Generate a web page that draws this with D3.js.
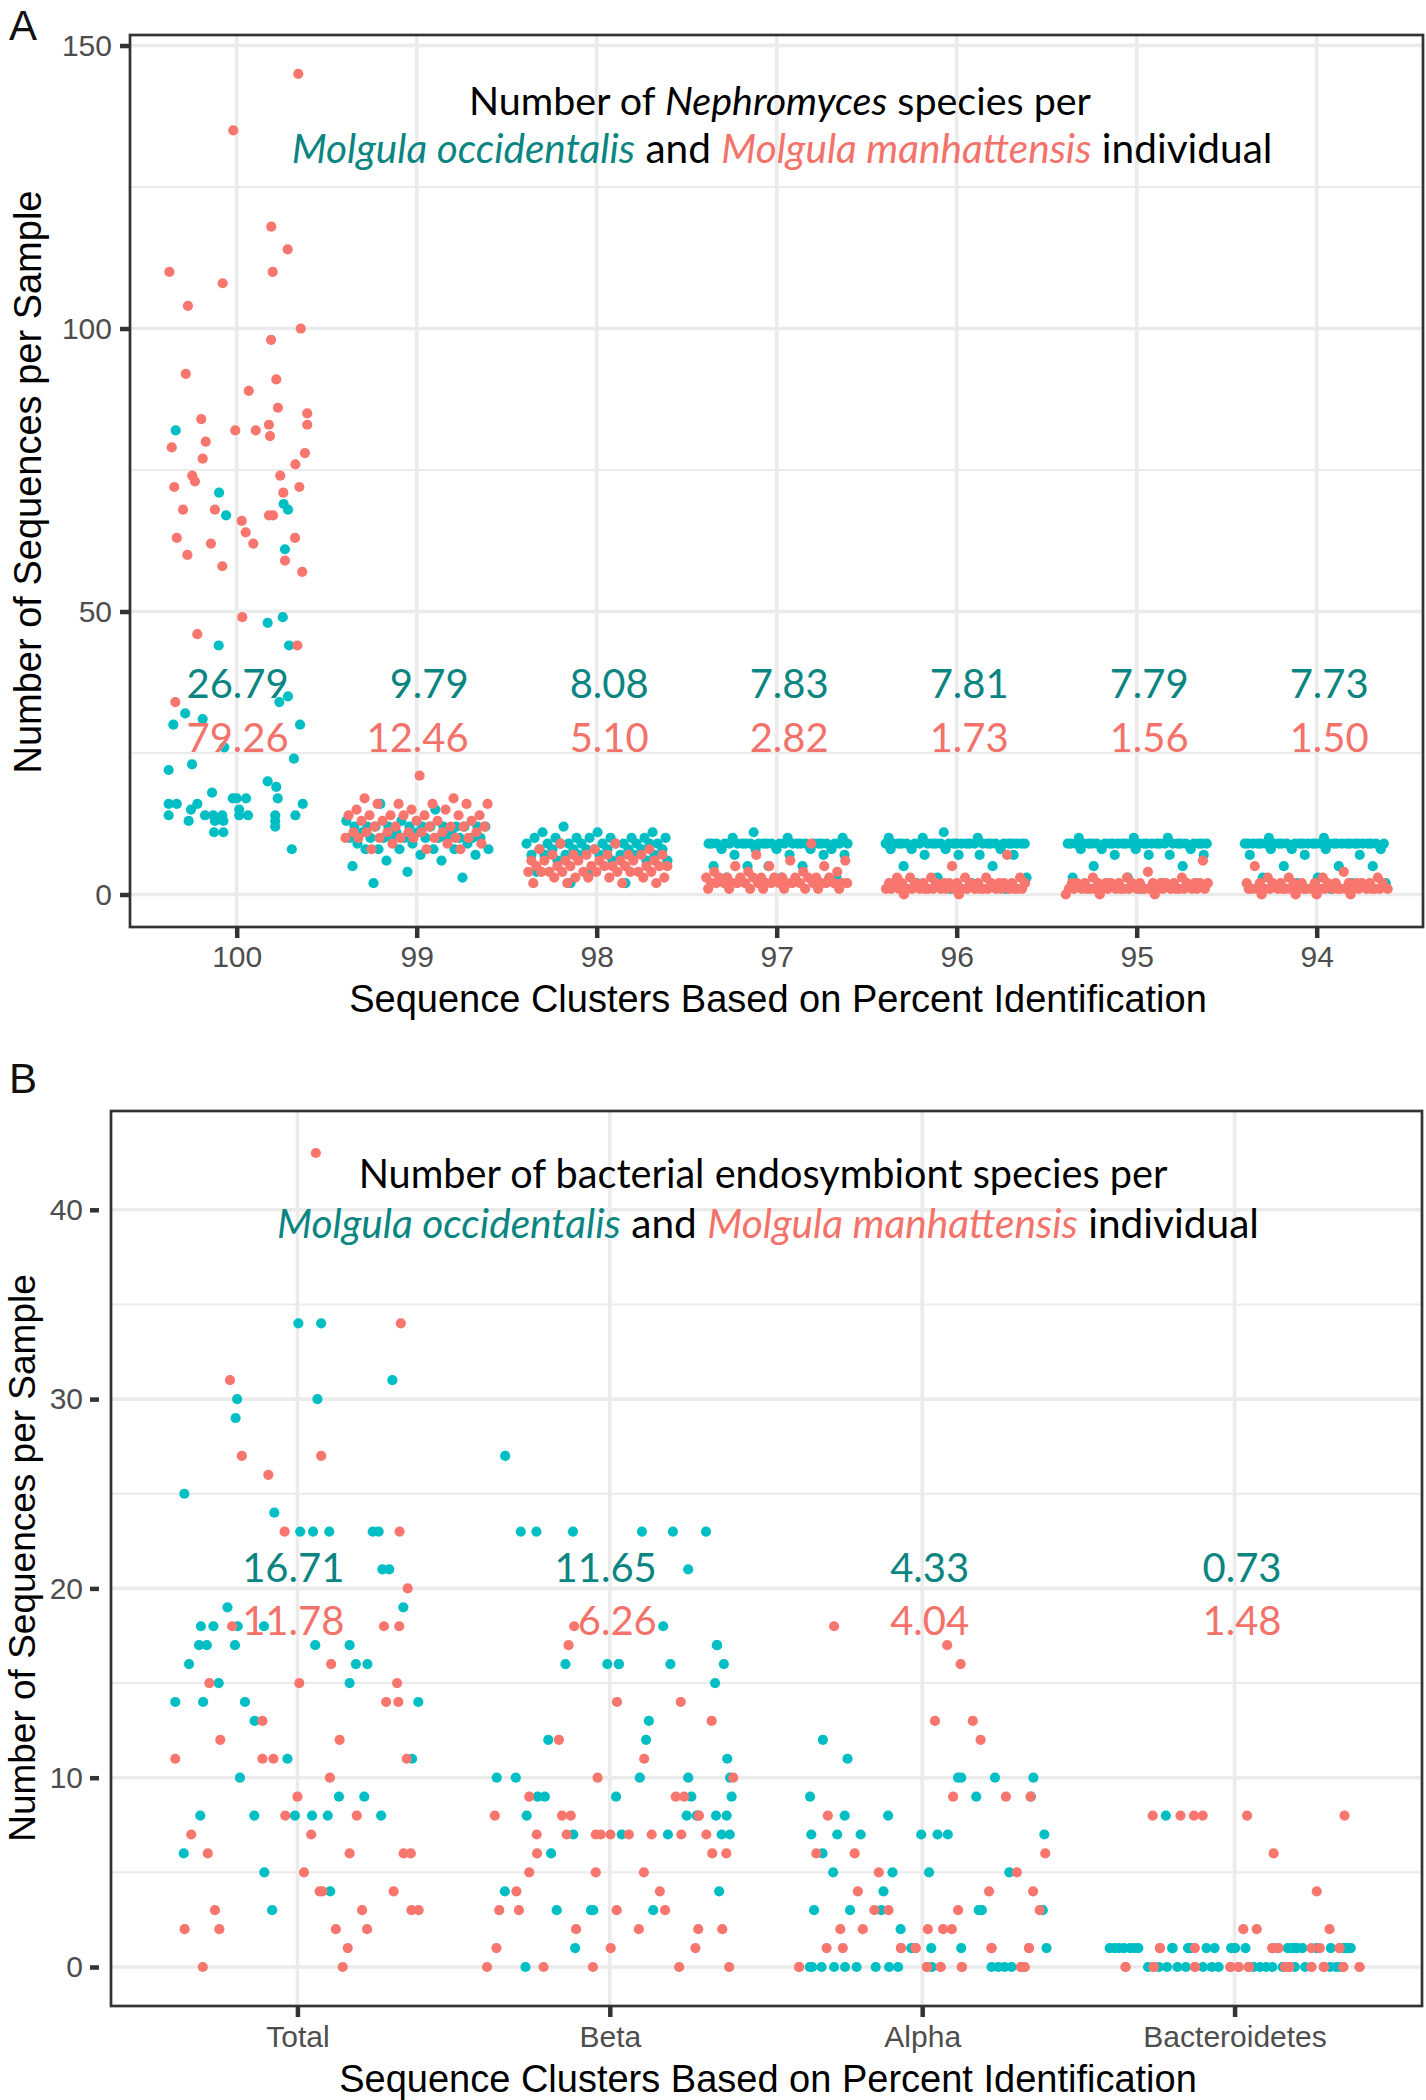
<!DOCTYPE html>
<html><head><meta charset="utf-8">
<script src="https://cdn.jsdelivr.net/npm/d3@7"></script>
<style>body{margin:0;background:#fff}svg{display:block}</style>
</head><body>
<svg id="c" width="1426" height="2100"></svg>
<script>
// ---------------- DATA ----------------
const catsA = ["100","99","98","97","96","95","94"];
const meansOccA = ["26.79","9.79","8.08","7.83","7.81","7.79","7.73"];
const meansManA = ["79.26","12.46","5.10","2.82","1.73","1.56","1.50"];
const yTicksA = [0,50,100,150];
const yMinorA = [25,75,125];

// category 100 : [jitter (category units), value]
const occA_100 = [[-0.339,82],[-0.098,71],[-0.059,67],[0.261,69],[0.285,68],[0.268,61],[0.172,48],[0.256,49],[-0.1,44],[0.291,44],[0.285,35],[0.237,34],[-0.286,32],[-0.189,31],[-0.352,30],[0.352,30],[-0.069,26],[0.318,24],[-0.248,23],[-0.378,22],[0.172,20],[0.22,19],[-0.137,18],[-0.378,16],[-0.333,16],[-0.219,16],[0.367,16],[-0.022,17],[0,17],[0.052,17],[0.228,17],[-0.378,14],[-0.254,15],[-0.176,14],[-0.13,14],[-0.08,14],[0.014,14],[0.063,14],[0.214,14],[0.326,14],[-0.267,13],[-0.121,13],[-0.074,13],[0.214,13],[0.214,12],[0.014,15],[-0.126,11],[-0.074,11],[0.306,8]];
const manA_100 = [[0.342,145],[-0.019,135],[0.192,118],[0.283,114],[-0.374,110],[0.2,110],[-0.078,108],[-0.271,104],[0.356,100],[0.191,98],[-0.283,92],[0.22,91],[0.067,89],[0.229,86],[0.392,85],[-0.197,84],[0.392,83],[0.179,83],[-0.008,82],[0.106,82],[0.185,81],[-0.172,80],[-0.361,79],[0.379,78],[-0.189,77],[0.326,76],[0.242,74],[-0.247,74],[-0.232,73],[-0.347,72],[0.348,72],[0.259,71],[-0.298,68],[-0.121,68],[0.179,67],[0.202,67],[0.028,66],[0.05,64],[-0.333,63],[0.324,63],[-0.143,62],[0.092,62],[-0.274,60],[0.268,59],[-0.08,58],[0.364,57],[0.031,49],[-0.219,46],[0.337,44],[-0.341,34]];

// categories 99 .. 94 : values per individual
const occA_99 = [2,3,4,5,6,6,7,7,8,8,8,8,8,8,9,9,9,10,10,10,10,10,10,10,10,10,10,10,11,11,11,11,12,12,12,12,12,12,12,12,12,12,12,12,13,13,15,16];
const manA_99 = [21,17,17,16,16,16,16,16,15,15,15,14,14,14,14,14,14,14,13,13,13,13,13,12,12,12,12,12,12,11,11,11,11,11,11,11,10,10,10,10,10,10,10,10,9,9,9,8,8,8];
const occA_98 = [12,11,11,11,10,10,10,10,10,10,10,10,9,9,9,9,9,9,9,9,9,9,9,8,8,8,8,8,8,8,8,8,7,7,7,7,7,7,7,7,6,6,6,6,4,4,2,2];
const manA_98 = [9,9,8,8,8,7,7,7,7,7,7,7,6,6,6,6,6,6,6,6,5,5,5,5,5,5,5,5,5,5,4,4,4,4,4,4,4,4,4,4,3,3,3,3,3,3,2,2,2,2];
const occA_97 = [11,10,10,10,9,9,9,9,9,9,9,9,9,9,9,9,9,9,9,9,9,9,9,9,9,9,9,9,9,9,8,8,8,8,8,7,7,7,7,5,5,5,5,3,3,3,2,2];
const manA_97 = [9,7,6,6,5,5,5,4,4,4,4,3,3,3,3,3,3,3,3,3,3,3,3,2,2,2,2,2,2,2,2,2,2,2,2,2,2,2,2,2,2,2,1,1,1,1,1,1,1,1];
const occA_96 = [11,10,10,10,9,9,9,9,9,9,9,9,9,9,9,9,9,9,9,9,9,9,9,9,9,9,9,9,9,9,9,9,8,8,8,8,7,7,7,7,5,5,3,3,2,2,1,1];
const manA_96 = [7,5,3,3,3,3,3,3,2,2,2,2,2,2,2,2,2,2,2,2,2,2,2,2,1,1,1,1,1,1,1,1,1,1,1,1,1,1,1,1,1,1,1,1,1,1,1,1,0,0];
const occA_95 = [10,10,10,9,9,9,9,9,9,9,9,9,9,9,9,9,9,9,9,9,9,9,9,9,9,9,9,9,9,9,9,9,8,8,8,8,7,7,7,7,5,5,3,3,2,2,2,1];
const manA_95 = [6,4,3,3,3,2,2,2,2,2,2,2,2,2,2,2,2,2,2,2,2,2,1,1,1,1,1,1,1,1,1,1,1,1,1,1,1,1,1,1,1,1,1,1,1,1,1,0,0,0];
const occA_94 = [10,10,9,9,9,9,9,9,9,9,9,9,9,9,9,9,9,9,9,9,9,9,9,9,9,9,9,9,9,9,9,9,8,8,8,8,7,7,7,5,5,5,3,3,2,2,2,1];
const manA_94 = [5,4,3,3,3,3,2,2,2,2,2,2,2,2,2,2,2,2,2,2,1,1,1,1,1,1,1,1,1,1,1,1,1,1,1,1,1,1,1,1,1,1,1,1,1,1,0,0,0,0];

const catsB = ["Total","Beta","Alpha","Bacteroidetes"];
const meansOccB = ["16.71","11.65","4.33","0.73"];
const meansManB = ["11.78","6.26","4.04","1.48"];
const yTicksB = [0,10,20,30,40];
const yMinorB = [5,15,25,35];

const occB_total = [[0.003,34],[0.076,34],[0.304,31],[-0.193,30],[0.064,30],[-0.198,29],[-0.362,25],[-0.074,24],[0.009,23],[0.05,23],[0.102,23],[0.241,23],[0.26,23],[0.272,21],[0.294,21],[-0.224,19],[0.339,19],[-0.309,18],[-0.269,18],[-0.191,18],[-0.107,18],[-0.315,17],[-0.29,17],[-0.2,17],[0.057,17],[0.167,17],[-0.347,16],[0.187,16],[0.224,16],[-0.252,15],[0.167,15],[-0.391,14],[-0.302,14],[-0.168,14],[0.387,14],[-0.137,13],[-0.032,11],[0.367,11],[-0.184,10],[0.133,9],[0.214,9],[-0.311,8],[-0.138,8],[-0.008,8],[0.047,8],[0.097,8],[0.268,8],[-0.364,6],[-0.106,5],[0.105,4],[-0.081,3]];
const manB_total = [[0.059,43],[0.331,34],[-0.216,31],[-0.178,27],[0.076,27],[-0.093,26],[-0.041,23],[0.327,23],[0.353,20],[-0.209,18],[0.277,18],[0.326,18],[0.108,16],[-0.282,15],[0.006,15],[0.319,15],[0.284,14],[0.323,14],[-0.112,13],[-0.247,12],[0.135,12],[-0.391,11],[-0.112,11],[-0.077,11],[0.35,11],[0.104,10],[0,9],[-0.039,8],[0.19,8],[-0.34,7],[0.044,7],[-0.287,6],[0.167,6],[0.34,6],[0.363,6],[0.021,5],[0.071,4],[0.308,4],[0.08,4],[-0.264,3],[0.207,3],[0.365,3],[0.388,3],[-0.361,2],[-0.25,2],[0.123,2],[0.223,2],[0.161,1],[-0.303,0],[0.145,0]];
const occB_beta = [[-0.335,27],[-0.285,23],[-0.235,23],[-0.118,23],[0.103,23],[0.202,23],[0.308,23],[0.251,21],[0.171,18],[0.343,17],[0.343,17],[-0.142,16],[-0.008,16],[0.029,16],[0.029,16],[0.194,16],[0.365,16],[0.337,15],[0.125,13],[0.116,12],[-0.197,12],[0.376,11],[-0.362,10],[-0.301,10],[0.096,10],[0.251,10],[0.385,10],[-0.231,9],[-0.208,9],[0.02,9],[0.261,9],[0.39,9],[-0.266,8],[0.246,8],[0.278,8],[0.34,8],[0.374,8],[-0.117,7],[0.038,7],[0.186,7],[0.358,7],[0.384,7],[-0.188,6],[-0.336,4],[0.35,4],[-0.17,3],[-0.06,3],[-0.053,3],[0.139,3],[-0.111,1],[-0.27,0]];
const manB_beta = [[-0.114,18],[-0.132,17],[0.023,14],[0.227,14],[0.326,13],[-0.163,12],[0.11,11],[-0.039,10],[0.395,10],[-0.258,9],[0.211,9],[0.238,9],[-0.368,8],[-0.153,8],[-0.125,8],[0.285,8],[0.285,8],[-0.234,7],[-0.138,7],[-0.045,7],[-0.029,7],[0.002,7],[0.061,7],[0.134,7],[0.229,7],[0.309,7],[-0.233,6],[0.328,6],[0.373,6],[-0.258,5],[-0.045,5],[0.109,5],[-0.299,4],[0.16,4],[-0.354,3],[-0.291,3],[0.022,3],[0.177,3],[-0.108,2],[0.093,2],[0.283,2],[0.36,2],[-0.363,1],[0.003,1],[0.274,1],[-0.393,0],[-0.212,0],[-0.054,0],[0.222,0],[0.382,0]];
const occB_alpha = [[-0.318,12],[-0.239,11],[0.115,10],[0.125,10],[0.233,10],[0.356,10],[-0.359,9],[0.173,9],[0.348,9],[-0.248,8],[-0.109,8],[-0.355,7],[-0.272,7],[-0.197,7],[-0.003,7],[0.049,7],[0.082,7],[0.391,7],[-0.319,6],[-0.285,5],[-0.095,5],[0.022,5],[0.279,5],[-0.124,4],[-0.346,3],[-0.231,3],[-0.131,3],[0.181,3],[0.191,3],[0.386,3],[-0.069,2],[-0.035,1],[0.029,1],[0.125,1],[0.398,1],[-0.36,0],[-0.352,0],[-0.322,0],[-0.282,0],[-0.247,0],[-0.21,0],[-0.149,0],[-0.106,0],[-0.077,0],[0.031,0],[0.222,0],[0.244,0],[0.264,0],[0.286,0]];
const manB_alpha = [[-0.282,18],[0.08,17],[0.123,16],[0.041,13],[0.162,13],[0.187,12],[0.099,9],[0.268,9],[0.347,9],[-0.302,8],[-0.339,6],[-0.216,6],[0.394,6],[-0.139,5],[0.303,5],[-0.206,4],[0.214,4],[0.355,4],[-0.153,3],[-0.108,3],[0.115,3],[0.376,3],[-0.262,2],[-0.19,2],[0.018,2],[0.067,2],[0.095,2],[-0.306,1],[-0.254,1],[-0.068,1],[-0.021,1],[0.222,1],[0.342,1],[0.222,1],[0.342,1],[-0.021,1],[-0.068,1],[-0.394,0],[0.015,0],[0.059,0],[0.127,0],[0.316,0],[0.328,0],[-0.394,0],[0.015,0],[0.059,0],[0.127,0],[0.316,0],[0.328,0],[0.015,0]];
const occB_bact = [[-0.22,8],[-0.4,1],[-0.384,1],[-0.354,1],[-0.334,1],[-0.308,1],[-0.198,1],[-0.149,1],[-0.09,1],[-0.064,1],[-0.011,1],[0.002,1],[0.035,1],[0.138,1],[0.183,1],[0.2,1],[0.217,1],[0.263,1],[0.308,1],[0.359,1],[0.372,1],[-0.37,1],[-0.32,1],[-0.2,1],[-0.14,1],[0.17,1],[0.19,1],[0.35,1],[0.365,1],[-0.277,0],[-0.242,0],[-0.216,0],[-0.183,0],[-0.156,0],[-0.101,0],[-0.073,0],[-0.051,0],[0.045,0],[0.061,0],[0.081,0],[0.101,0],[0.121,0],[0.154,0],[0.193,0],[0.226,0],[0.286,0],[0.306,0],[0.325,0],[0.339,0]];
const manB_bact = [[-0.262,8],[-0.173,8],[-0.13,8],[-0.102,8],[0.04,8],[0.352,8],[0.125,6],[0.263,4],[0.028,2],[0.071,2],[0.304,2],[-0.239,1],[-0.127,1],[0.121,1],[0.141,1],[0.246,1],[0.273,1],[0.336,1],[-0.239,1],[0.121,1],[0.336,1],[-0.349,0],[-0.259,0],[-0.127,0],[-0.013,0],[0.013,0],[0.046,0],[0.162,0],[0.175,0],[0.246,0],[0.286,0],[0.348,0],[0.4,0],[-0.349,0],[-0.259,0],[-0.127,0],[-0.013,0],[0.013,0],[0.046,0],[0.162,0],[0.175,0],[0.246,0],[0.286,0],[0.348,0],[0.4,0],[-0.259,0],[-0.013,0],[0.046,0],[0.175,0],[0.286,0]];

const titleA = [[["Number of ",0,0],["Nephromyces",0,1],[" species per",0,0]],
                [["Molgula occidentalis",1,1],[" and ",0,0],["Molgula manhattensis",2,1],[" individual",0,0]]];
const titleB = [[["Number of bacterial endosymbiont species per",0,0]],
                [["Molgula occidentalis",1,1],[" and ",0,0],["Molgula manhattensis",2,1],[" individual",0,0]]];
const xTitle = "Sequence Clusters Based on Percent Identification";
const yTitle = "Number of Sequences per Sample";

// ---------------- DRAWING ----------------
const svg = d3.select("#c");
const AXF = "'Liberation Sans', Arial, Helvetica, sans-serif";
const TXF = "Lato, 'Open Sans', sans-serif";
const TEAL = "#00BFC4", SALMON = "#F8766D";
const TEAL_T = "#0a8581", SALMON_T = "#F3726A";
const txtCols = ["#000", TEAL_T, SALMON_T];
const GRID = "#EBEBEB";

function golden(i, seed){ return (((i*0.6180339887 + seed) % 1) - 0.5) * 0.8; }

function drawPanel(P){
  const g = svg.append("g");
  const x = d3.scaleLinear().domain([0.4, P.cats.length + 0.6]).range(P.xRange);
  const y = d3.scaleLinear().domain(P.yDomain).range(P.yRange);
  const [L,R] = P.border.x, [T,B] = P.border.y;
  // grid
  g.selectAll(null).data(P.minor).join("line")
    .attr("x1",L).attr("x2",R).attr("y1",d=>y(d)).attr("y2",d=>y(d))
    .attr("stroke",GRID).attr("stroke-width",2);
  g.selectAll(null).data(P.ticks).join("line")
    .attr("x1",L).attr("x2",R).attr("y1",d=>y(d)).attr("y2",d=>y(d))
    .attr("stroke",GRID).attr("stroke-width",3.6);
  g.selectAll(null).data(P.cats.map((c,i)=>i+1)).join("line")
    .attr("x1",d=>x(d)).attr("x2",d=>x(d)).attr("y1",T).attr("y2",B)
    .attr("stroke",GRID).attr("stroke-width",3.6);
  // points
  const pts = [];
  P.series.forEach(s=>{
    s.data.forEach((d,i)=>{
      const jit = Array.isArray(d) ? d[0] : golden(i, s.seed);
      const v = Array.isArray(d) ? d[1] : d;
      pts.push({x:x(s.cat + jit), y:y(v), c:s.color, o:s.order});
    });
  });
  pts.sort((a,b)=>a.o-b.o);
  g.selectAll(null).data(pts).join("circle")
    .attr("cx",d=>d.x).attr("cy",d=>d.y).attr("r",5.1).attr("fill",d=>d.c);
  // mean labels
  P.cats.forEach((c,i)=>{
    g.append("text").attr("x",x(i+1)+P.labDx).attr("y",P.labY[0])
      .attr("text-anchor","end").attr("font-family",TXF).attr("font-size",P.labFs)
      .attr("fill",TEAL_T).text(P.meanOcc[i]);
    g.append("text").attr("x",x(i+1)+P.labDx).attr("y",P.labY[1])
      .attr("text-anchor","end").attr("font-family",TXF).attr("font-size",P.labFs)
      .attr("fill",SALMON_T).text(P.meanMan[i]);
  });
  // title lines
  P.title.forEach((line,li)=>{
    const t = g.append("text").attr("x",P.titlePos[li][0]).attr("y",P.titlePos[li][1])
      .attr("text-anchor","middle").attr("font-family",TXF).attr("font-size",P.titleFs);
    line.forEach(seg=>{
      t.append("tspan").attr("fill",txtCols[seg[1]]).attr("font-style",seg[2]?"italic":"normal").text(seg[0]);
    });
    const w = t.node().getComputedTextLength();
    t.attr("font-size", P.titleFs * P.titleW[li] / w);
  });
  // border
  g.append("rect").attr("x",L).attr("y",T).attr("width",R-L).attr("height",B-T)
    .attr("fill","none").attr("stroke","#333").attr("stroke-width",2.7);
  // y axis
  const ya = g.append("g").attr("transform",`translate(${P.yAxisX},0)`)
    .call(d3.axisLeft(y).tickValues(P.ticks).tickSize(P.yTickLen).tickPadding(P.yPad));
  ya.select(".domain").remove();
  ya.selectAll(".tick line").attr("stroke","#333").attr("stroke-width",4.5);
  ya.selectAll(".tick text").attr("font-family",AXF).attr("font-size",30).attr("fill","#4D4D4D");
  // x axis
  const xa = g.append("g").attr("transform",`translate(0,${B})`)
    .call(d3.axisBottom(x).tickValues(P.cats.map((c,i)=>i+1)).tickFormat(d=>P.cats[d-1]).tickSize(11).tickPadding(P.xPad));
  xa.select(".domain").remove();
  xa.selectAll(".tick line").attr("stroke","#333").attr("stroke-width",4.5);
  xa.selectAll(".tick text").attr("font-family",AXF).attr("font-size",30).attr("fill","#4D4D4D");
  // axis titles
  g.append("text").attr("x",P.xTitlePos[0]).attr("y",P.xTitlePos[1]).attr("text-anchor","middle")
    .attr("font-family",AXF).attr("font-size",38).attr("fill","#000").text(xTitle);
  g.append("text").attr("transform",`translate(${P.yTitlePos[0]},${P.yTitlePos[1]}) rotate(-90)`)
    .attr("text-anchor","middle").attr("font-family",AXF).attr("font-size",P.yTitleFs).attr("fill","#000").text(yTitle);
  // panel letter
  g.append("text").attr("x",P.letterPos[0]).attr("y",P.letterPos[1]).attr("font-family",AXF)
    .attr("font-size",42).attr("fill","#111").text(P.letter);
}

const seriesA = [];
const occA = [occA_100,occA_99,occA_98,occA_97,occA_96,occA_95,occA_94];
const manA = [manA_100,manA_99,manA_98,manA_97,manA_96,manA_95,manA_94];
occA.forEach((d,i)=>seriesA.push({cat:i+1,data:d,color:TEAL,seed:0.13+i*0.07,order:0}));
manA.forEach((d,i)=>seriesA.push({cat:i+1,data:d,color:SALMON,seed:0.41+i*0.11,order:1}));

drawPanel({
  cats:catsA, xRange:[128.7,1424.7], yDomain:[-5.74,151.86], yRange:[927,35],
  border:{x:[130,1423], y:[35,927]}, ticks:yTicksA, minor:yMinorA, series:seriesA,
  meanOcc:meansOccA, meanMan:meansManA, labDx:52, labY:[698,752], labFs:40,
  title:titleA, titlePos:[[780,115],[782,163]], titleW:[622,981], titleFs:40,
  yAxisX:130, yTickLen:10, yPad:8, xPad:8,
  xTitlePos:[778,1012], yTitlePos:[41,482], yTitleFs:38, letterPos:[9,40], letter:"A"
});

const seriesB = [];
[occB_total,occB_beta,occB_alpha,occB_bact].forEach((d,i)=>seriesB.push({cat:i+1,data:d,color:TEAL,seed:0,order:0}));
[manB_total,manB_beta,manB_alpha,manB_bact].forEach((d,i)=>seriesB.push({cat:i+1,data:d,color:SALMON,seed:0,order:1}));

drawPanel({
  cats:catsB, xRange:[110,1422], yDomain:[-2.15,45.15], yRange:[2007.7,1112.3],
  border:{x:[111,1422], y:[1111,2006]}, ticks:yTicksB, minor:yMinorB, series:seriesB,
  meanOcc:meansOccB, meanMan:meansManB, labDx:47, labY:[1582,1635], labFs:40,
  title:titleB, titlePos:[[763,1188],[768,1238]], titleW:[809,982], titleFs:40,
  yAxisX:99, yTickLen:9, yPad:7, xPad:9,
  xTitlePos:[768,2092], yTitlePos:[35,1558], yTitleFs:37, letterPos:[9,1093], letter:"B"
});
</script>
</body></html>
